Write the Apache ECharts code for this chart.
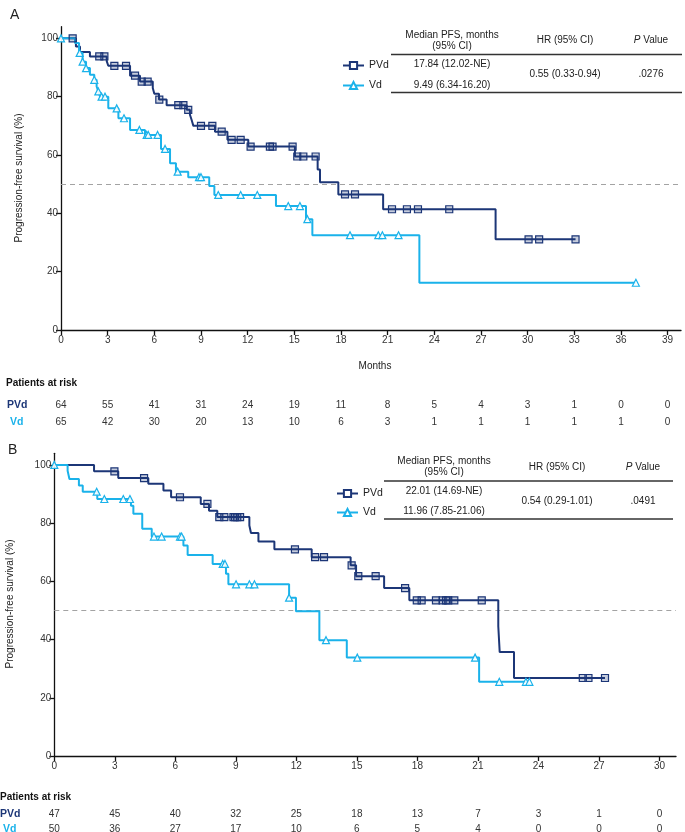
<!DOCTYPE html>
<html>
<head>
<meta charset="utf-8">
<script src="https://cdn.jsdelivr.net/npm/echarts@6/dist/echarts.min.js"></script>
<style>html,body{margin:0;padding:0;background:#fff;}#c{width:685px;height:832px;}</style>
</head>
<body>
<div id="c"></div>
<script>
// ---------- DATA ----------
const ticksA = [0,3,6,9,12,15,18,21,24,27,30,33,36,39];
const ticksB = [0,3,6,9,12,15,18,21,24,27,30];
const yTicks = [0,20,40,60,80,100];

// Panel A, PVd: step times (months) and survival (%) after each step
const pvdA_t = [0,0.96,1.22,1.86,2.94,3.04,4.44,5.08,5.9,6.0,6.3,6.79,8.08,8.29,8.40,8.51,9.90,10.7,12.04,15.04,16.5,16.65,17.83,20.71,27.94,33.08];
const pvdA_s = [100,97.2,95.3,93.8,92.2,90.6,87.2,85.2,83.0,81.0,79.0,77.1,75.5,73.8,72.0,70.0,68.0,65.2,62.9,59.5,55.0,50.7,46.5,41.4,31.1,31.1];
const pvdA_cens = [0.75,2.46,2.79,3.43,4.18,4.76,5.19,5.57,6.32,7.54,7.87,8.18,9.0,9.73,10.33,10.97,11.55,12.19,13.43,13.6,14.89,15.19,15.58,16.37,18.26,18.9,21.28,22.24,22.95,24.96,30.06,30.74,33.08];

// Panel A, Vd
const vdA_t = [0,0.90,1.16,1.39,1.61,1.86,2.14,2.29,2.40,2.51,3.04,3.69,4.44,5.40,6.43,7.01,7.39,8.18,9.53,9.86,13.82,15.75,16.16,23.04,36.96];
const vdA_s = [100,98.4,95.0,92.0,89.8,87.5,85.8,83.5,81.8,80.0,76.0,72.6,68.6,66.9,62.1,57.2,54.3,52.4,49.4,46.3,42.5,38.0,32.5,16.2,16.2];
const vdA_cens = [0,1.2,1.39,1.61,2.14,2.40,2.61,2.83,3.58,4.05,5.04,5.51,5.61,6.21,6.69,7.50,8.87,9.0,10.11,11.55,12.62,14.61,15.36,15.84,18.58,20.4,20.66,21.7,36.96];

// Panel B, PVd
const pvdB_t = [0,1.97,3.17,4.66,5.41,5.79,7.26,7.67,8.08,9.67,9.75,10.12,10.91,12.76,14.69,14.96,16.35,17.6,22.01,22.08,22.79,27.3];
const pvdB_s = [100,97.8,95.5,93.5,91.2,88.9,86.6,84.3,82.1,79.2,76.6,73.7,71.0,68.3,65.5,61.8,57.7,53.5,44.6,35.7,26.8,26.8];
const pvdB_cens = [2.98,4.45,6.23,7.59,8.18,8.43,8.88,8.96,9.07,9.21,11.93,12.93,13.37,14.74,15.07,15.93,17.39,17.97,18.21,18.92,19.25,19.42,19.53,19.83,21.19,26.2,26.48,27.3];

// Panel B, Vd
const vdB_t = [0,0.66,0.75,1.22,1.41,2.13,3.80,3.92,4.36,4.83,6.40,6.61,7.85,8.51,8.63,11.64,11.98,13.14,14.5,21.06,23.55];
const vdB_s = [100,98.0,95.2,92.9,90.8,88.3,86.0,83.2,78.1,75.4,72.3,69.1,66.0,62.6,59.0,54.4,49.7,39.8,33.8,25.5,25.5];
const vdB_cens = [0,2.10,2.48,3.42,3.75,4.94,5.32,6.23,6.31,8.35,8.46,9.01,9.67,9.92,11.64,13.47,15.02,20.86,22.06,23.38,23.55];

// Patients at risk
const riskA_PVd = [64,55,41,31,24,19,11,8,5,4,3,1,0,0];
const riskA_Vd  = [65,42,30,20,13,10,6,3,1,1,1,1,1,0];
const riskB_PVd = [47,45,40,32,25,18,13,7,3,1,0];
const riskB_Vd  = [50,36,27,17,10,6,5,4,0,0,0];

// Summary tables
const tableA = {median:['17.84 (12.02-NE)','9.49 (6.34-16.20)'], hr:'0.55 (0.33-0.94)', p:'.0276'};
const tableB = {median:['22.01 (14.69-NE)','11.96 (7.85-21.06)'], hr:'0.54 (0.29-1.01)', p:'.0491'};

// ---------- STYLE ----------
const FONT = '"Liberation Sans", Arial, Helvetica, sans-serif';
const NAVY = '#1c3677';
const CYAN = '#1ab2ea';
const TXT = '#333';

function steps(t, s){ return t.map((x,i)=>[x, s[i]]); }
function survAt(t, s, x){ let v = s[0]; for (let i=0;i<t.length;i++){ if (t[i] <= x + 1e-9) v = s[i]; } return v; }
function cens(t, s, c){ return c.map(x=>[x, survAt(t, s, x)]); }

function mkX(gi, max, ticks){
  return {type:'value', gridIndex:gi, min:0, max:max,
    splitLine:{show:false},
    axisLine:{onZero:false, lineStyle:{color:'#111', width:1.3}},
    axisTick:{length:5, lineStyle:{color:'#111', width:1.3}, customValues:ticks},
    axisLabel:{customValues:ticks, fontSize:10, color:TXT, margin:5, fontFamily:FONT}};
}
function mkY(gi){
  return {type:'value', gridIndex:gi, min:0, max:104,
    splitLine:{show:false},
    axisLine:{show:true, onZero:false, lineStyle:{color:'#111', width:1.3}},
    axisTick:{show:true, length:5, lineStyle:{color:'#111', width:1.3}, customValues:yTicks},
    axisLabel:{customValues:yTicks, fontSize:10, color:TXT, margin:3, fontFamily:FONT}};
}
function lineSeries(name, gi, data, color, sym, withMark){
  const s = {name:name, type:'line', step:'end', xAxisIndex:gi, yAxisIndex:gi, data:data,
    showSymbol:false, symbol:sym, symbolSize:7, color:color,
    lineStyle:{color:color, width:2}, itemStyle:{color:color}, z:3, silent:true};
  if (withMark) s.markLine = {silent:true, symbol:'none', label:{show:false}, z:1,
    lineStyle:{type:[5,4], color:'#a3a3a3', width:1}, data:[{yAxis:50}]};
  return s;
}
function censSeries(gi, data, color, sym, fill){
  return {name:'_c', type:'scatter', xAxisIndex:gi, yAxisIndex:gi, data:data, symbol:sym, symbolSize:7,
    itemStyle:{color:fill, borderColor:color, borderWidth:1.2, opacity:1}, z:4, silent:true};
}

const chart = echarts.init(document.getElementById('c'), null, {renderer:'canvas'});
const option = {
  animation:false,
  textStyle:{fontFamily:FONT},
  grid:[{left:61, top:26.7, width:620, height:303.3}, {left:54.3, top:453.3, width:621.7, height:302.7}],
  xAxis:[mkX(0, 39.86, ticksA), mkX(1, 30.82, ticksB)],
  yAxis:[mkY(0), mkY(1)],
  legend:[
    {left:337, top:55, orient:'vertical', itemWidth:21, itemHeight:9, itemGap:9, selectedMode:false,
     data:['PVd','Vd'], textStyle:{fontSize:10.5, color:'#222', fontFamily:FONT}},
    {left:331, top:483, orient:'vertical', itemWidth:21, itemHeight:9, itemGap:8, selectedMode:false,
     data:['PVd','Vd'], textStyle:{fontSize:10.5, color:'#222', fontFamily:FONT}}
  ],
  series:[
    lineSeries('PVd', 0, steps(pvdA_t, pvdA_s), NAVY, 'emptyRect', true),
    lineSeries('Vd', 0, steps(vdA_t, vdA_s), CYAN, 'emptyTriangle', false),
    censSeries(0, cens(pvdA_t, pvdA_s, pvdA_cens), NAVY, 'rect', 'rgba(28,54,119,0.25)'),
    censSeries(0, cens(vdA_t, vdA_s, vdA_cens), CYAN, 'triangle', 'rgba(255,255,255,0.9)'),
    lineSeries('PVd', 1, steps(pvdB_t, pvdB_s), NAVY, 'emptyRect', true),
    lineSeries('Vd', 1, steps(vdB_t, vdB_s), CYAN, 'emptyTriangle', false),
    censSeries(1, cens(pvdB_t, pvdB_s, pvdB_cens), NAVY, 'rect', 'rgba(28,54,119,0.25)'),
    censSeries(1, cens(vdB_t, vdB_s, vdB_cens), CYAN, 'triangle', 'rgba(255,255,255,0.9)')
  ]
};
chart.setOption(option);

// ---------- TEXT / TABLE GRAPHICS ----------
const g = [];
function txt(x, y, text, opts){
  opts = opts || {};
  g.push({type:'text', x:x, y:y, rotation:opts.rot||0, silent:true,
    style:{text:text, fill:opts.color||'#222', font:(opts.weight||'normal')+' '+(opts.size||10)+'px '+FONT,
      textAlign:opts.align||'center', textVerticalAlign:'middle'}});
}
function hline(x1, x2, y){
  g.push({type:'line', silent:true, shape:{x1:x1, y1:y, x2:x2, y2:y}, style:{stroke:'#333', lineWidth:1.3}});
}
function table(tb, cx, y0, lineL, lineR){
  txt(cx[0], y0 - 5.5, 'Median PFS, months');
  txt(cx[0], y0 + 5.5, '(95% CI)');
  txt(cx[1], y0, 'HR (95% CI)');
  g.push({type:'text', x:cx[2], y:y0, silent:true,
    style:{text:'{i|P} Value', fill:'#222', font:'10px '+FONT, textAlign:'center', textVerticalAlign:'middle',
      rich:{i:{fontStyle:'italic', fontSize:10, fontFamily:FONT, fill:'#222'}}}});
  hline(lineL, lineR, y0 + 14);
  txt(cx[0], y0 + 24, tb.median[0]);
  txt(cx[0], y0 + 44.5, tb.median[1]);
  txt(cx[1], y0 + 34, tb.hr);
  txt(cx[2], y0 + 34, tb.p);
  hline(lineL, lineR, y0 + 52);
}
table(tableA, [452, 565, 651], 40.5, 391, 682);
table(tableB, [444, 557, 643], 467, 384, 673);

// Panel letters
txt(10, 15, 'A', {size:14, align:'left'});
txt(8, 450, 'B', {size:14, align:'left'});
// y-axis titles
txt(19, 178, 'Progression-free survival (%)', {rot:Math.PI/2});
txt(10, 604, 'Progression-free survival (%)', {rot:Math.PI/2});
// Months
txt(375, 366, 'Months');

function riskTable(gi, ticks, rPVd, rVd, yHead, yP, yV, headX, pvdX, vdX){
  txt(headX, yHead, 'Patients at risk', {weight:'bold', align:'left', color:'#111'});
  txt(pvdX, yP, 'PVd', {weight:'bold', align:'left', color:NAVY, size:10.5});
  txt(vdX, yV, 'Vd', {weight:'bold', align:'left', color:CYAN, size:10.5});
  ticks.forEach((t,i)=>{
    const px = chart.convertToPixel({xAxisIndex:gi}, t);
    txt(px, yP, String(rPVd[i]), {color:TXT});
    txt(px, yV, String(rVd[i]), {color:TXT});
  });
}
riskTable(0, ticksA, riskA_PVd, riskA_Vd, 383, 405, 422, 6, 7, 10);
riskTable(1, ticksB, riskB_PVd, riskB_Vd, 797, 814, 829, 0, 0, 3);

chart.setOption({graphic:g});
</script>
</body>
</html>
